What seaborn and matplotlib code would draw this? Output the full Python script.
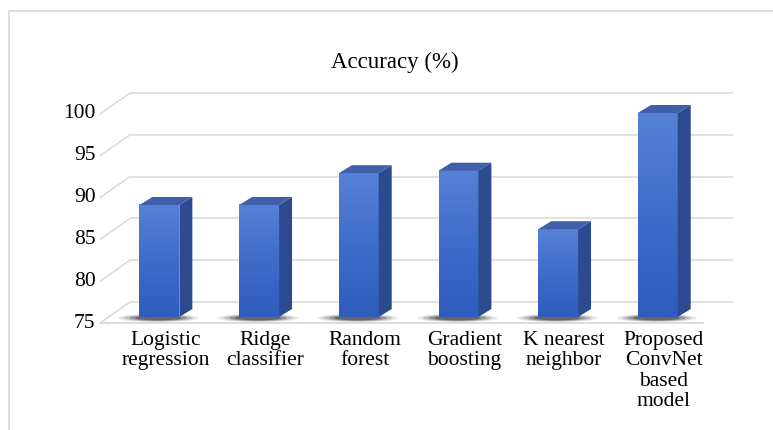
import numpy as np
import pandas as pd
import matplotlib
matplotlib.use("Agg")
import matplotlib.pyplot as plt
import seaborn as sns
from matplotlib.patches import Polygon, Rectangle, Ellipse
from matplotlib.colors import LinearSegmentedColormap
from matplotlib.transforms import offset_copy

# ---- data ----
models = ["Logistic\nregression", "Ridge\nclassifier", "Random\nforest",
          "Gradient\nboosting", "K nearest\nneighbor",
          "Proposed\nConvNet\nbased\nmodel"]
accuracy = [88.4, 88.4, 92.2, 92.5, 85.5, 99.4]
yticks = [75, 80, 85, 90, 95, 100]
title = "Accuracy (%)"

# ---- style ----
sns.set_theme(style="white")
plt.rcParams["font.family"] = ["Liberation Serif", "DejaVu Serif"]

W, H = 773, 430
DPI = 100
fig = plt.figure(figsize=(W / DPI, H / DPI), dpi=DPI)
fig.patch.set_facecolor("white")

# axes plane = plane of the bars' front faces (pixel geometry)
left_px, right_px = 108.6, 711.6
base_px, top_px = 317.0, 108.0
ax = fig.add_axes([left_px / W, (H - base_px) / H,
                   (right_px - left_px) / W, (base_px - top_px) / H])
ax.set_facecolor("none")

df = pd.DataFrame({"model": models, "accuracy": accuracy})
sns.barplot(data=df, x="model", y="accuracy", ax=ax, color="#3562c2",
            saturation=1, width=0.4, edgecolor="none", zorder=3)

XLIM = (-0.51, 5.54)
YLIM = (yticks[0], yticks[-1])
ax.set_xlim(*XLIM)
ax.set_ylim(*YLIM)
for s in ax.spines.values():
    s.set_visible(False)
ax.set_xticks([])
ax.set_yticks([])
ax.set_xlabel("")
ax.set_ylabel("")

# pixel -> data unit conversion
ppx = (right_px - left_px) / (XLIM[1] - XLIM[0])
ppy = (base_px - top_px) / (YLIM[1] - YLIM[0])
def dxp(px):
    return px / ppx
def dyp(px):
    return px / ppy

grid_c = "#d9d9d9"
# back wall offset and front floor offset (pixels)
bw_dx, bw_dy = 21.4, 15.0
fr_dx, fr_dy = -8.6, -6.0
x_l, x_r = XLIM
for v in yticks:
    # back wall line
    ax.plot([x_l + dxp(bw_dx), x_r + dxp(bw_dx)], [v + dyp(bw_dy)] * 2,
            color=grid_c, lw=1.1, zorder=1, clip_on=False,
            solid_capstyle="butt")
    # side wall diagonal
    ax.plot([x_l + dxp(fr_dx), x_l + dxp(bw_dx)],
            [v + dyp(fr_dy), v + dyp(bw_dy)],
            color=grid_c, lw=1.1, zorder=1, clip_on=False)
# floor front edge
ax.plot([x_l + dxp(fr_dx), x_r + dxp(fr_dx)], [YLIM[0] + dyp(fr_dy)] * 2,
        color=grid_c, lw=1.3, zorder=1, clip_on=False)

# 3D bar faces
grad = LinearSegmentedColormap.from_list("front", ["#2f5cbd", "#3f6ccb", "#5781d6"])
img = np.linspace(0, 1, 256).reshape(-1, 1)
side_c = "#2b4a90"
top_c = "#3f5fab"
ddx, ddy = dxp(13), dyp(8)
base = YLIM[0]
for p in list(ax.patches):
    x0, w, h = p.get_x(), p.get_width(), p.get_height()
    x1 = x0 + w
    # soft shadow on the floor
    for k, a in enumerate([0.12, 0.18, 0.26, 0.36]):
        sc = 1 - k * 0.14
        ax.add_patch(Ellipse((x0 + w / 2 - dxp(1), base + dyp(-1)),
                             width=(w + dxp(40)) * sc, height=dyp(8) * sc,
                             facecolor="#1a1a1a", alpha=a, lw=0,
                             zorder=2, clip_on=False))
    ax.imshow(img, extent=(x0, x1, base, h), origin="lower", cmap=grad,
              aspect="auto", zorder=4, interpolation="bilinear")
    ax.add_patch(Polygon([(x1, base), (x1, h), (x1 + ddx, h + ddy),
                          (x1 + ddx, base + ddy)], closed=True,
                         facecolor=side_c, lw=0, zorder=4, clip_on=False))
    ax.add_patch(Polygon([(x0, h), (x1, h), (x1 + ddx, h + ddy),
                          (x0 + ddx, h + ddy)], closed=True,
                         facecolor=top_c, lw=0, zorder=4, clip_on=False))
ax.set_xlim(*XLIM)
ax.set_ylim(*YLIM)

# value axis labels on the front-left corner
lab_tr = offset_copy(ax.transData, fig=fig, x=-13, y=-6, units="dots")
for v in yticks:
    ax.text(x_l, v, f"{v}", transform=lab_tr, ha="right", va="center",
            fontsize=15.5, color="black", clip_on=False)

# category labels under the floor
cat_tr = offset_copy(ax.transData, fig=fig, x=6, y=-14, units="dots")
for i, m in enumerate(models):
    ax.text(i, base, m, transform=cat_tr, ha="center", va="top",
            fontsize=15.5, color="black", linespacing=1.1, clip_on=False)

fig.text(395 / W, 1 - 62 / H, title, ha="center", va="center",
         fontsize=16.5, color="black")

# chart border
fig.add_artist(Rectangle((9 / W, -0.2), 1.0, 1 - 11 / H + 0.2,
                         transform=fig.transFigure, fill=False,
                         edgecolor="#d9d9d9", lw=1.2))

fig.savefig("out.png", dpi=DPI, facecolor="white")
